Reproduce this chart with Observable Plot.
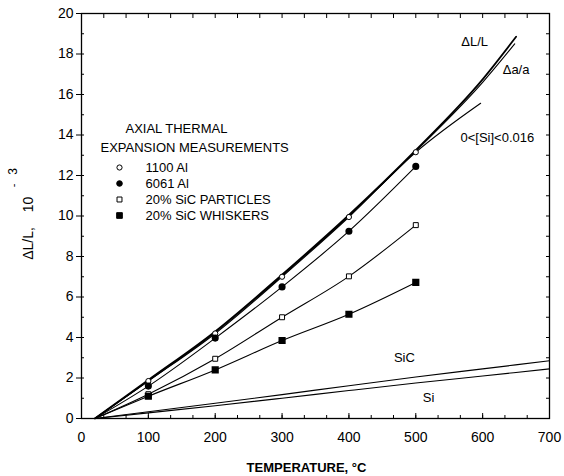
<!DOCTYPE html>
<html>
<head>
<meta charset="utf-8">
<script src="https://cdn.jsdelivr.net/npm/d3@7"></script>
<script src="https://cdn.jsdelivr.net/npm/@observablehq/plot@0.6"></script>
<style>
  body { margin: 0; background: #fff; }
  #chart svg { font-family: "Liberation Sans", Arial, sans-serif; }
</style>
</head>
<body>
<div id="chart"></div>
<script>
// Measurement temperatures (°C)
const temps = [100, 200, 300, 400, 500];
// Measured axial thermal expansion, ΔL/L ×10^-3
const al1100 = [1.85, 4.2, 7.0, 9.95, 13.15];
const al6061 = [1.6, 3.97, 6.5, 9.25, 12.45];
const sicParticles = [1.2, 2.95, 5.0, 7.02, 9.55];
const sicWhiskers = [1.1, 2.4, 3.85, 5.15, 6.72];
const startT = 20;

// Reference curves
const dLL_T = [20, 100, 200, 300, 400, 500, 600, 650];
const dLL_V = [0, 1.9, 4.3, 7.1, 10.05, 13.25, 16.75, 18.85];
const daa_T = [20, 100, 200, 300, 400, 500, 600, 648];
const daa_V = [0, 1.85, 4.25, 7.05, 10.0, 13.2, 16.6, 18.5];
const siAl_T = [20, 100, 200, 300, 400, 500, 597];
const siAl_V = [0, 1.85, 4.2, 7.0, 9.95, 13.15, 15.57];
const sic_T = [20, 100, 200, 300, 400, 500, 600, 700];
const sic_V = [0, 0.33, 0.75, 1.18, 1.62, 2.05, 2.45, 2.85];
const si_T = [20, 100, 200, 300, 400, 500, 600, 700];
const si_V = [0, 0.28, 0.63, 1.0, 1.38, 1.75, 2.1, 2.45];

// Curve labels
const labelText = ["ΔL/L", "Δa/a", "0<[Si]<0.016", "SiC", "Si"];
const labelT = [588, 650, 622, 483, 519];
const labelV = [18.6, 17.2, 13.85, 3.0, 1.0];

// Legend
const legendTitle = ["AXIAL THERMAL", "EXPANSION MEASUREMENTS"];
const legendNames = ["1100 Al", "6061 Al", "20% SiC PARTICLES", "20% SiC WHISKERS"];

// Ticks
const xMajor = d3.range(0, 701, 100);
const xMinor = d3.range(0, 701, 100 / 3);
const yMajor = d3.range(0, 21, 2);
const yMinor = d3.range(0, 21, 1);

const pts = (ts, vs) => ts.map((t, i) => ({t, v: vs[i]}));
const withStart = (vs) => [{t: startT, v: 0}, ...pts(temps, vs)];

const lineOpts = {x: "t", y: "v", stroke: "black", strokeWidth: 1.1, curve: "monotone-x"};

const legendMarks = [];
const legendSymbols = [
  {symbol: "circle", fill: "white", r: 2.6},
  {symbol: "circle", fill: "black", r: 2.8},
  {symbol: "square", fill: "white", r: 2.8},
  {symbol: "square", fill: "black", r: 3.2}
];
const legendDy = [154, 170, 186, 202];
legendMarks.push(Plot.text([legendTitle[0]], {frameAnchor: "top-left", text: d => d, dx: 44, dy: 115, textAnchor: "start", lineAnchor: "middle", fontSize: 13, fill: "black"}));
legendMarks.push(Plot.text([legendTitle[1]], {frameAnchor: "top-left", text: d => d, dx: 19, dy: 134, textAnchor: "start", lineAnchor: "middle", fontSize: 13, fill: "black"}));
legendNames.forEach((name, i) => {
  legendMarks.push(Plot.dot([name], {frameAnchor: "top-left", dx: 38, dy: legendDy[i], symbol: legendSymbols[i].symbol, fill: legendSymbols[i].fill, stroke: "black", strokeWidth: 1, r: legendSymbols[i].r}));
  legendMarks.push(Plot.text([name], {frameAnchor: "top-left", text: d => d, dx: 64, dy: legendDy[i], textAnchor: "start", lineAnchor: "middle", fontSize: 13, fill: "black"}));
});

const yTitle = {frameAnchor: "left", rotate: -90, textAnchor: "middle", lineAnchor: "middle", fill: "black"};

const chart = Plot.plot({
  width: 564,
  height: 476,
  marginLeft: 81,
  marginRight: 15,
  marginTop: 13,
  marginBottom: 58,
  style: {fontFamily: "Liberation Sans, Arial, sans-serif", background: "white", color: "black"},
  x: {domain: [0, 700]},
  y: {domain: [0, 20]},
  marks: [
    Plot.frame({stroke: "black", strokeWidth: 1.3}),
    // bottom axis
    Plot.axisX({anchor: "bottom", ticks: xMinor, tickSize: -3, text: null, label: null}),
    Plot.axisX({anchor: "bottom", ticks: xMajor, tickSize: -5, tickPadding: 19, tickFormat: d3.format("d"), fontSize: 14, label: null, style: {letterSpacing: "1.5px"}}),
    // top axis
    Plot.axisX({anchor: "top", ticks: xMinor, tickSize: -4, text: null, label: null}),
    // left axis
    Plot.axisY({anchor: "left", ticks: yMinor, tickSize: -3, text: null, label: null}),
    Plot.axisY({anchor: "left", ticks: yMajor, tickSize: 5, tickPadding: 3, tickFormat: d3.format("d"), fontSize: 14, label: null}),
    // right axis
    Plot.axisY({anchor: "right", ticks: yMinor, tickSize: -4, text: null, label: null}),

    // reference curves
    Plot.line(pts(dLL_T, dLL_V), {...lineOpts, strokeWidth: 1.8}),
    Plot.line(pts(daa_T, daa_V), lineOpts),
    Plot.line(pts(siAl_T, siAl_V), lineOpts),
    Plot.line(pts(sic_T, sic_V), lineOpts),
    Plot.line(pts(si_T, si_V), lineOpts),

    // measured series lines
    Plot.line(withStart(al6061), lineOpts),
    Plot.line(withStart(sicParticles), lineOpts),
    Plot.line(withStart(sicWhiskers), lineOpts),

    // measured points
    Plot.dot(pts(temps, al1100), {x: "t", y: "v", symbol: "circle", r: 2.6, fill: "white", stroke: "black", strokeWidth: 1}),
    Plot.dot(pts(temps, al6061), {x: "t", y: "v", symbol: "circle", r: 2.8, fill: "black", stroke: "black"}),
    Plot.dot(pts(temps, sicParticles), {x: "t", y: "v", symbol: "square", r: 2.8, fill: "white", stroke: "black", strokeWidth: 1}),
    Plot.dot(pts(temps, sicWhiskers), {x: "t", y: "v", symbol: "square", r: 3.2, fill: "black", stroke: "black"}),

    // curve labels
    Plot.text(labelText.map((s, i) => ({s, t: labelT[i], v: labelV[i]})), {x: "t", y: "v", text: "s", fontSize: 13, fill: "black", lineAnchor: "middle"}),

    // legend
    ...legendMarks,

    // axis titles
    Plot.text(["TEMPERATURE, °C"], {frameAnchor: "bottom", text: d => d, dx: -9, dy: 49, textAnchor: "middle", lineAnchor: "middle", fontSize: 13, fontWeight: "bold", fill: "black", style: {letterSpacing: "0.8px"}}),
    Plot.text(["ΔL/L,"], {...yTitle, text: d => d, dx: -52.5, dy: 27.5, fontSize: 14}),
    Plot.text(["10"], {...yTitle, text: d => d, dx: -52.5, dy: -11.5, fontSize: 14}),
    Plot.text(["-"], {...yTitle, text: d => d, dx: -68, dy: -30.5, fontSize: 11}),
    Plot.text(["3"], {...yTitle, text: d => d, dx: -68.5, dy: -44.5, fontSize: 12})
  ]
});
document.getElementById("chart").appendChild(chart);
</script>
</body>
</html>
